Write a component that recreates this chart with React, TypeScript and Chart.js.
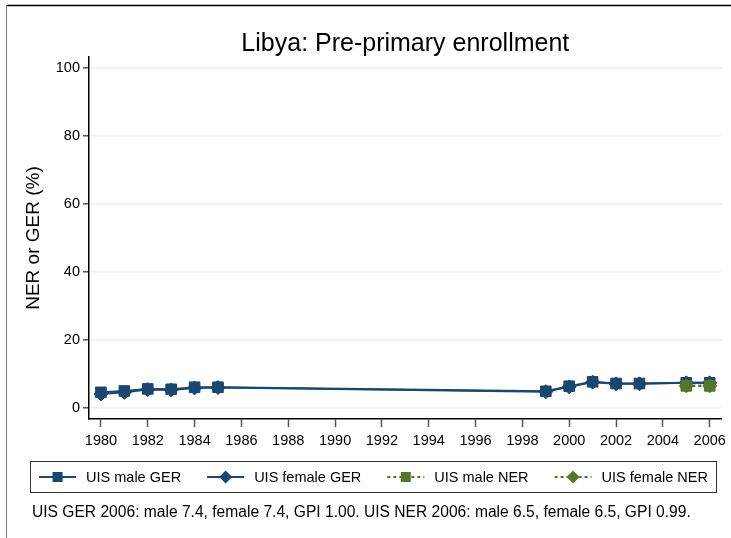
import React, { useEffect, useRef } from 'react';
import { Chart, registerables } from 'chart.js';

Chart.register(...registerables);

// ---------- data ----------
const gerYears = [1980, 1981, 1982, 1983, 1984, 1985, 1999, 2000, 2001, 2002, 2003, 2005, 2006];
const maleGER = [4.6, 5.0, 5.6, 5.5, 6.1, 6.1, 4.9, 6.4, 7.7, 7.2, 7.2, 7.4, 7.4];
const femaleGER = [4.1, 4.6, 5.4, 5.3, 5.9, 6.0, 4.8, 6.2, 7.6, 7.1, 7.1, 7.4, 7.4];
const nerYears = [2005, 2006];
const maleNER = [6.5, 6.5];
const femaleNER = [6.5, 6.5];

const xTicks = [1980, 1982, 1984, 1986, 1988, 1990, 1992, 1994, 1996, 1998, 2000, 2002, 2004, 2006];
const yTicks = [0, 20, 40, 60, 80, 100];

const seriesLabels = ['UIS male GER', 'UIS female GER', 'UIS male NER', 'UIS female NER'];
const chartTitle = 'Libya: Pre-primary enrollment';
const yTitle = 'NER or GER (%)';
const footNote =
  'UIS GER 2006: male 7.4, female 7.4, GPI 1.00. UIS NER 2006: male 6.5, female 6.5, GPI 0.99.';

// ---------- styles ----------
const NAVY = '#1a476f';
const GREEN = '#55752f';
const FONT = '"Liberation Sans", Arial, Helvetica, sans-serif';

const toPoints = (xs: number[], ys: number[]) => xs.map((x, i) => ({ x, y: ys[i] }));

const framePlugin = {
  id: 'frame',
  beforeDraw(chart: any) {
    const ctx = chart.ctx;
    ctx.save();
    ctx.fillStyle = '#ffffff';
    ctx.fillRect(0, 0, chart.width, chart.height);
    ctx.strokeStyle = '#000000';
    ctx.lineWidth = 1.5;
    ctx.beginPath();
    ctx.moveTo(6, 5.5);
    ctx.lineTo(chart.width, 5.5);
    ctx.stroke();
    ctx.strokeStyle = '#777777';
    ctx.lineWidth = 1;
    ctx.beginPath();
    ctx.moveTo(6.5, 5);
    ctx.lineTo(6.5, chart.height);
    ctx.stroke();
    ctx.restore();
  },
};

const legendPlugin = {
  id: 'customLegend',
  afterDraw(chart: any) {
    const ctx = chart.ctx;
    const boxL = 30.5, boxT = 461.5, boxW = 686, boxH = 31;
    const cy = boxT + boxH / 2;
    ctx.save();
    ctx.strokeStyle = '#333333';
    ctx.lineWidth = 1;
    ctx.strokeRect(boxL, boxT, boxW, boxH);

    ctx.font = `14.5px ${FONT}`;
    ctx.textBaseline = 'middle';
    ctx.textAlign = 'left';
    const sample = 37, gapText = 10, gapItem = 26;
    const datasets = chart.data.datasets;
    const widths = datasets.map((d: any) => ctx.measureText(d.label).width);
    const total =
      widths.reduce((a: number, b: number) => a + b, 0) +
      datasets.length * (sample + gapText) +
      (datasets.length - 1) * gapItem;
    let x = boxL + boxW / 2 - total / 2;
    datasets.forEach((d: any, i: number) => {
      ctx.strokeStyle = d.borderColor;
      ctx.lineWidth = 2;
      ctx.setLineDash(d.borderDash || []);
      ctx.beginPath();
      ctx.moveTo(x, cy);
      ctx.lineTo(x + sample, cy);
      ctx.stroke();
      ctx.setLineDash([]);
      const mx = x + sample / 2;
      ctx.fillStyle = d.pointBackgroundColor;
      ctx.beginPath();
      if (d.pointStyle === 'rect') {
        ctx.rect(mx - 5, cy - 5, 10, 10);
      } else {
        ctx.moveTo(mx - 6.5, cy);
        ctx.lineTo(mx, cy - 6.5);
        ctx.lineTo(mx + 6.5, cy);
        ctx.lineTo(mx, cy + 6.5);
        ctx.closePath();
      }
      ctx.fill();
      ctx.fillStyle = '#000000';
      ctx.fillText(d.label, x + sample + gapText, cy + 0.5);
      x += sample + gapText + widths[i] + gapItem;
    });

    ctx.font = `15.6px ${FONT}`;
    ctx.fillStyle = '#000000';
    ctx.fillText(footNote, 32, 513);
    ctx.restore();
  },
};

export default function App() {
  const canvasRef = useRef<HTMLCanvasElement | null>(null);

  useEffect(() => {
    if (!canvasRef.current) return;
    const mk = (label: string, xs: number[], ys: number[], color: string, style: string, dashed: boolean, order: number) => ({
      label,
      data: toPoints(xs, ys),
      borderColor: color,
      backgroundColor: color,
      pointBackgroundColor: color,
      pointBorderColor: color,
      pointBorderWidth: 1,
      pointStyle: style,
      pointRadius: style === 'rect' ? 7.5 : 7,
      borderWidth: 2,
      borderDash: dashed ? [3, 3] : [],
      tension: 0,
      fill: false,
      order,
    });

    const chart = new Chart(canvasRef.current, {
      type: 'line',
      data: {
        datasets: [
          mk(seriesLabels[0], gerYears, maleGER, NAVY, 'rect', false, 3),
          mk(seriesLabels[1], gerYears, femaleGER, NAVY, 'rectRot', false, 2),
          mk(seriesLabels[2], nerYears, maleNER, GREEN, 'rect', true, 1),
          mk(seriesLabels[3], nerYears, femaleNER, GREEN, 'rectRot', true, 0),
        ] as any,
      },
      options: {
        animation: false,
        responsive: false,
        events: [],
        layout: { padding: { left: 0, right: 9, top: 0, bottom: 89 } },
        plugins: {
          legend: { display: false },
          tooltip: { enabled: false },
          title: {
            display: true,
            fullSize: false,
            text: chartTitle,
            color: '#000000',
            font: { size: 25, family: FONT, weight: 'normal', lineHeight: 1 },
            padding: { top: 31.5, bottom: 0.5 },
          },
        },
        scales: {
          x: {
            type: 'linear',
            min: 1979.49,
            max: 2006.51,
            afterBuildTicks: (s: any) => {
              s.ticks = xTicks.map((v) => ({ value: v }));
            },
            afterFit: (s: any) => {
              s.height = 30;
            },
            grid: { drawOnChartArea: false, drawTicks: true, tickLength: 8, tickColor: '#555555', tickWidth: 1.5 },
            border: { display: true, color: '#000000', width: 1.5 },
            ticks: {
              color: '#000000',
              font: { size: 14.5, family: FONT },
              padding: 5,
              maxRotation: 0,
              autoSkip: false,
              callback: (v: any) => String(v),
            },
          },
          y: {
            type: 'linear',
            min: -3.24,
            max: 103.2,
            afterBuildTicks: (s: any) => {
              s.ticks = yTicks.map((v) => ({ value: v }));
            },
            afterFit: (s: any) => {
              s.width = 89;
            },
            grid: { color: '#eaf2f3', lineWidth: 1.5, tickColor: '#555555', tickLength: 6, tickWidth: 1.5 },
            border: { display: true, color: '#000000', width: 1.5 },
            ticks: {
              color: '#000000',
              font: { size: 14.5, family: FONT },
              padding: 3,
              callback: (v: any) => String(v),
            },
            title: {
              display: true,
              text: yTitle,
              color: '#000000',
              font: { size: 19, family: FONT, weight: 'normal', lineHeight: 1.2 },
              padding: { top: 22, bottom: 0 },
            },
          },
        },
      } as any,
      plugins: [framePlugin, legendPlugin],
    });
    return () => chart.destroy();
  }, []);

  return (
    <div style={{ position: 'fixed', left: 0, top: 0, width: 731, height: 538, background: '#fff' }}>
      <canvas ref={canvasRef} width={731} height={538} style={{ display: 'block' }} />
    </div>
  );
}
